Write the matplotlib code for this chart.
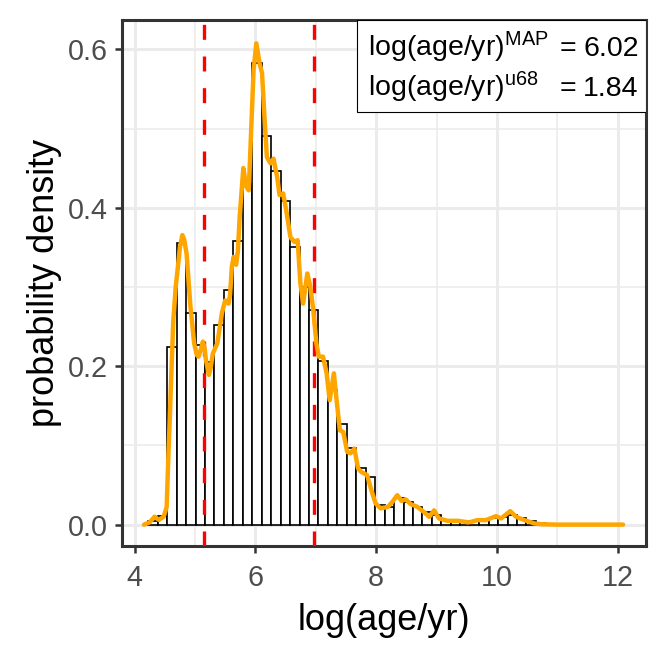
import matplotlib
matplotlib.use("Agg")
import matplotlib.pyplot as plt
import numpy as np
from matplotlib.patches import Rectangle

# histogram: bin edges (log age) and bar heights
bin_start = 4.225
bin_width = 0.1566
bar_heights = [0.005, 0.011, 0.2245, 0.355, 0.2675, 0.2266, 0.205, 0.252,
               0.296, 0.358, 0.43, 0.583, 0.4905, 0.446, 0.408, 0.35,
               0.30, 0.271, 0.207, 0.17, 0.1265, 0.097, 0.072, 0.0596,
               0.0246, 0.022, 0.033, 0.029, 0.0225, 0.016, 0.012, 0.006,
               0.006, 0.005, 0.005, 0.006, 0.0086, 0.0098, 0.012, 0.008,
               0.004, 0.002]

# density curve (orange)
kde_x = [4.155, 4.25, 4.33, 4.40, 4.48, 4.53, 4.56, 4.58, 4.60, 4.64,
         4.68, 4.71, 4.75, 4.79, 4.82, 4.86, 4.92, 4.985, 5.03, 5.057,
         5.10, 5.13, 5.16, 5.18, 5.23, 5.26, 5.295, 5.37, 5.445, 5.50,
         5.555, 5.58, 5.61, 5.64, 5.68, 5.71, 5.74, 5.80, 5.85, 5.89,
         5.93, 5.97, 6.015, 6.07, 6.11, 6.15, 6.19, 6.25, 6.30, 6.36,
         6.40, 6.46, 6.51, 6.58, 6.645, 6.70, 6.745, 6.79, 6.86, 6.91,
         6.96, 7.01, 7.05, 7.12, 7.18, 7.23, 7.30, 7.345, 7.40, 7.455,
         7.52, 7.575, 7.64, 7.70, 7.75, 7.85, 7.92, 7.99, 8.075, 8.196,
         8.27, 8.35, 8.42, 8.49, 8.57, 8.68, 8.79, 8.88, 8.96, 9.04,
         9.18, 9.35, 9.54, 9.68, 9.82, 9.985, 10.07, 10.22, 10.32, 10.455,
         10.62, 10.73, 11.0, 12.09]
kde_y = [0.0, 0.003, 0.010, 0.006, 0.010, 0.022, 0.09, 0.13, 0.174, 0.258,
         0.30, 0.321, 0.35, 0.3655, 0.36, 0.342, 0.279, 0.229, 0.214, 0.212,
         0.222, 0.231, 0.222, 0.208, 0.189, 0.198, 0.216, 0.229, 0.267, 0.283,
         0.279, 0.29, 0.3255, 0.338, 0.328, 0.345, 0.389, 0.45, 0.4265, 0.422,
         0.498, 0.574, 0.6075, 0.582, 0.57, 0.515, 0.464, 0.456, 0.462, 0.439,
         0.416, 0.418, 0.397, 0.363, 0.357, 0.359, 0.3045, 0.279, 0.317, 0.300,
         0.27, 0.229, 0.212, 0.212, 0.191, 0.157, 0.191, 0.157, 0.119, 0.117,
         0.092, 0.09, 0.096, 0.071, 0.0667, 0.0625, 0.0436, 0.0268, 0.0205, 0.0225,
         0.0288, 0.0372, 0.030, 0.0318, 0.026, 0.0225, 0.016, 0.0098, 0.018, 0.0078,
         0.0048, 0.0048, 0.0028, 0.0057, 0.0057, 0.0107, 0.0078, 0.017, 0.0098, 0.0057,
         0.0015, 0.0005, 0.0, 0.0]

map_value = 6.02
u68_value = 1.84
interval = [5.143, 6.978]

plt.rcParams['font.family'] = ['Liberation Sans', 'DejaVu Sans']
plt.rcParams['mathtext.fontset'] = 'custom'
plt.rcParams['mathtext.rm'] = 'Liberation Sans'
plt.rcParams['mathtext.it'] = 'Liberation Sans:italic'

fig = plt.figure(figsize=(6.64, 6.64), dpi=100)
ax = fig.add_axes([0.1837, 0.1777, 0.7892, 0.7922])

edges = bin_start + bin_width * np.arange(len(bar_heights) + 1)
ax.bar(edges[:-1], bar_heights, width=np.diff(edges), align='edge',
       facecolor='white', edgecolor='black', linewidth=1.2, zorder=2)

for xv in interval:
    ax.axvline(xv, color='red', linewidth=2.4, linestyle=(0, (4.5, 5)), zorder=3)

ax.plot(kde_x, kde_y, color='orange', linewidth=3.2, solid_joinstyle='round',
        solid_capstyle='round', zorder=4)

ax.set_xlim(3.79, 12.47)
ax.set_ylim(-0.027, 0.637)
ax.set_xticks([4, 6, 8, 10, 12])
ax.set_xticks([5, 7, 9, 11], minor=True)
ax.set_yticks([0.0, 0.2, 0.4, 0.6])
ax.set_yticklabels(['0.0', '0.2', '0.4', '0.6'])
ax.set_yticks([0.1, 0.3, 0.5], minor=True)

ax.grid(which='major', color='#EBEBEB', linewidth=2.2, zorder=0)
ax.grid(which='minor', color='#EBEBEB', linewidth=1.1, zorder=0)
ax.set_axisbelow(True)

for sp in ax.spines.values():
    sp.set_color('#333333')
    sp.set_linewidth(2.2)
ax.tick_params(which='major', length=5, width=1.8, color='#333333',
               labelsize=20.7, labelcolor='#4D4D4D', pad=5)
ax.tick_params(axis='x', which='major', pad=8)
ax.tick_params(which='minor', length=0)

ax.set_xlabel('log(age/yr)', fontsize=26, labelpad=8)
ax.set_ylabel('probability density', fontsize=26, labelpad=4)

# annotation box in the top right corner
ax.add_patch(Rectangle((0.4485, 0.8257), 0.5515, 0.1743, transform=ax.transAxes,
                       facecolor='white', edgecolor='black', linewidth=0.8, zorder=5))
rows = [(0.9310, r'log(age/yr)$^{\mathrm{MAP}}$', map_value),
        (0.8555, r'log(age/yr)$^{\mathrm{u68}}$', u68_value)]
for yv, label, val in rows:
    ax.text(0.4690, yv, label, transform=ax.transAxes, fontsize=20.5,
            ha='left', va='baseline', zorder=6)
    ax.text(0.8359, yv, '=', transform=ax.transAxes, fontsize=20.5,
            ha='left', va='baseline', zorder=6)
    ax.text(0.8798, yv, f'{val:.2f}', transform=ax.transAxes, fontsize=20.5,
            ha='left', va='baseline', zorder=6)

fig.savefig('out.png', dpi=100)
